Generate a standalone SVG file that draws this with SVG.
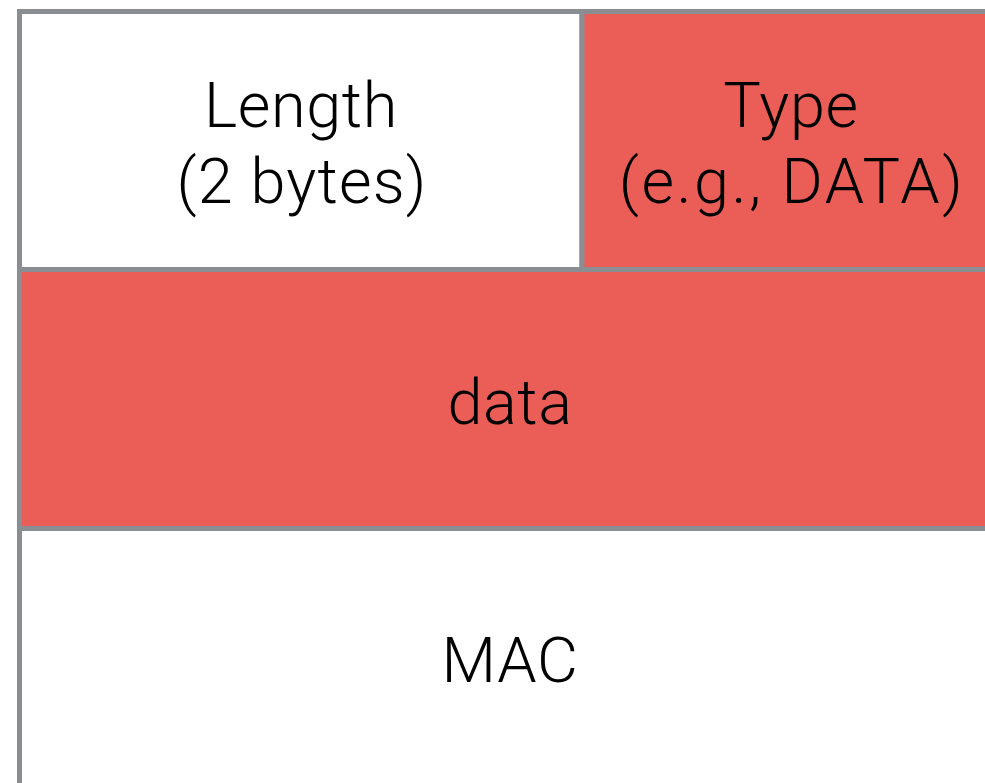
<svg xmlns="http://www.w3.org/2000/svg" width="985" height="783" viewBox="0 0 985 783">
<style>
.cell{stroke:#8a8d91;stroke-width:5}
.red{fill:#eb5e58}
.white{fill:#ffffff}
text{font-family:Roboto,"Liberation Sans",sans-serif;font-weight:300;font-size:63px;letter-spacing:0.6px;fill:#000;text-anchor:middle}
</style>
<rect width="985" height="783" fill="#ffffff"/>
<g id="mac"><rect class="cell white" x="19.5" y="528.5" width="980" height="270"/><text x="510" y="682">MAC</text></g>
<g id="data"><rect class="cell red" x="19.5" y="269.5" width="980" height="259"/><text x="510" y="424">data</text></g>
<g id="length"><rect class="cell white" x="19.5" y="11.5" width="562.5" height="258"/><text x="301" y="127">Length</text><text x="302" y="203" style="letter-spacing:1.2px">(2 bytes)</text></g>
<g id="type"><rect class="cell red" x="582" y="11.5" width="420" height="258"/><text x="791" y="127">Type</text><text x="792" y="203" style="letter-spacing:2.5px">(e.g., DATA)</text></g>
</svg>
